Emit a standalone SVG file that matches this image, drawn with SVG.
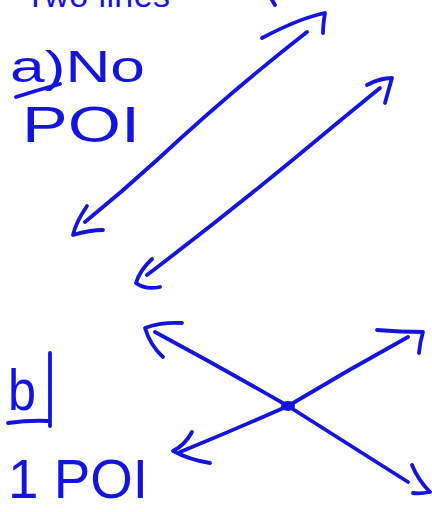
<svg xmlns="http://www.w3.org/2000/svg" width="432" height="512" viewBox="0 0 432 512">
<style>
.s{fill:none;stroke:#1414dc;stroke-width:3.8;stroke-linecap:round;stroke-linejoin:round}
.t{fill:#1414dc;font-family:"Liberation Sans",Arial,sans-serif}
</style>
<rect width="432" height="512" fill="#ffffff"/>
<g id="title"><text class="t" x="25" y="7" font-size="34" textLength="145">Two lines</text>
<path class="s" d="M272,0 L275,5"/></g>
<g id="label-a">
<text class="t" x="10" y="82" font-size="44" textLength="135" lengthAdjust="spacingAndGlyphs">a)No</text>
<path class="s" d="M16,97 Q38,90 60,84"/>
<text class="t" x="22" y="142" font-size="50" textLength="118" lengthAdjust="spacingAndGlyphs">POI</text>
</g>
<g id="label-b">
<text class="t" x="8" y="410" font-size="58" textLength="28" lengthAdjust="spacingAndGlyphs">b</text>
<path class="s" d="M50,353 L50,426 M8,423 Q30,420 48,421"/>
<text class="t" x="8" y="498" font-size="56" textLength="140" lengthAdjust="spacingAndGlyphs">1 POI</text>
</g>
<g id="connectors">
<g id="line1">
<path class="s" d="M307,32 Q230,92 157,160 Q122,192 85,222"/>
<path class="s" d="M262,38 Q300,18 325,13 Q323,25 323,33"/>
<path class="s" d="M87,206 Q76,222 73,235 Q90,230 103,230"/>
</g>
<g id="line2">
<path class="s" d="M380,88 Q337,123 295,158 Q222,218 147,275"/>
<path class="s" d="M367,85 Q380,78 392,78 Q388,92 385,103"/>
<path class="s" d="M152,259 Q140,270 136,283 Q145,290 160,287"/>
</g>
<g id="line3">
<path class="s" d="M155,332 Q222,368 288,406 Q350,445 408,482"/>
<path class="s" d="M182,323 Q160,322 145,328 Q150,345 163,357"/>
<path class="s" d="M412,465 Q418,480 430,492 Q420,494 413,493"/>
</g>
<g id="line4">
<path class="s" d="M408,337 Q348,370 288,406 Q234,430 180,452"/>
<path class="s" d="M377,330 Q400,332 423,332 Q420,342 419,353"/>
<path class="s" d="M192,432 Q185,445 173,451 Q190,460 210,463"/>
</g>
</g>
<g id="poi"><ellipse cx="288" cy="406" rx="7" ry="5" fill="#1414dc"/></g>
</svg>
